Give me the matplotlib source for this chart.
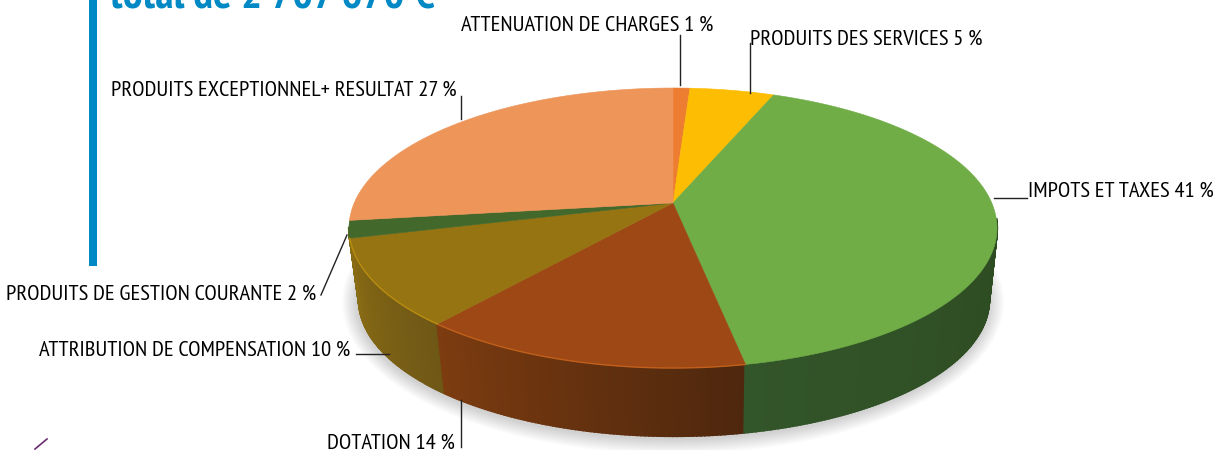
import numpy as np
import matplotlib
matplotlib.use("Agg")
import matplotlib.pyplot as plt
import logging
logging.getLogger('matplotlib.font_manager').setLevel(logging.ERROR)

NARROW = ['PT Sans Narrow', 'Roboto Condensed', 'Liberation Sans Narrow', 'Liberation Sans', 'DejaVu Sans']
plt.rcParams['font.family'] = NARROW

# ---- data
categories = ["ATTENUATION DE CHARGES", "PRODUITS DES SERVICES", "IMPOTS ET TAXES", "DOTATION",
              "ATTRIBUTION DE COMPENSATION", "PRODUITS DE GESTION COURANTE", "PRODUITS EXCEPTIONNEL+ RESULTAT"]
values = [1, 5, 41, 14, 10, 2, 27]
top_colors = ["#ed7d31", "#fcbd03", "#70ad47", "#9e4815", "#977412", "#43682b", "#ee9559"]
side_left = ["#b05a20", "#b98a00", "#33552a", "#7d3c10", "#8a6c14", "#5a6a20", "#a8683a"]
side_right = ["#b05a20", "#b98a00", "#294219", "#4e270e", "#6f5716", "#5a6a20", "#a8683a"]
rim_colors = [None, None, None, "#c0601c", "#b98d10", None, None]
title_text = "total de 2 707 670 €"
label_text = ["ATTENUATION DE CHARGES 1 %", "PRODUITS DES SERVICES 5 %", "IMPOTS ET TAXES 41 %",
              "DOTATION 14 %", "ATTRIBUTION DE COMPENSATION 10 %", "PRODUITS DE GESTION COURANTE 2 %",
              "PRODUITS EXCEPTIONNEL+ RESULTAT 27 %"]

# ---- geometry of the perspective pie (pixels)
CX, CY, RX, RY = 673, 228, 324, 140
BCX, BCY, BRX, BRY = 674, 300, 315, 136
TILT = 25 / 140


def hex2rgb(c):
    return np.array(matplotlib.colors.to_rgb(c))


def project(theta):
    """True pie angle -> angle on the drawn ellipse (perspective boost)."""
    x, y = np.sin(theta), np.cos(theta)
    d = 1 + TILT * y
    return np.arctan2(x * np.sqrt(1 - TILT ** 2) / d, (y + TILT) / d) % (2 * np.pi)


def top_pt(p):
    return CX + RX * np.sin(p), CY - RY * np.cos(p)


def bot_pt(p):
    return BCX + BRX * np.sin(p), BCY - BRY * np.cos(p)


fig = plt.figure(figsize=(12.26, 4.5), dpi=100, facecolor="white")
ax = fig.add_axes([0, 0, 1, 1])
ax.set_xlim(0, 1226)
ax.set_ylim(450, 0)
ax.axis("off")

# ---- shadow
phi = np.linspace(0, 2 * np.pi, 300)
for k in range(16, 0, -1):
    ax.fill(BCX - 1 + (BRX + k) * np.sin(phi), BCY + 2 - (BRY + k) * np.cos(phi),
            color="#808080", alpha=0.022, lw=0, zorder=1)

# ---- wedges
edges = np.cumsum([0] + values) / sum(values) * 2 * np.pi
for i in range(len(values)):
    t = np.linspace(edges[i], edges[i + 1], max(int(values[i] * 6), 6))
    p = np.unwrap(project(t))
    # side wall: a base polygon, then gradient steps that overlap to the next one
    for j, (a, b) in enumerate(zip(p[:-1], p[1:])):
        m = a % (2 * np.pi)
        if 1.5 < m < 4.72:
            f = np.clip((a - p.min()) / max(p.max() - p.min(), 1e-6), 0, 1)
            col = hex2rgb(side_right[i]) * (1 - f) + hex2rgb(side_left[i]) * f
            xt, yt = top_pt(np.array([a, b]))
            xb, yb = bot_pt(np.array([b, a]))
            ax.fill(np.r_[xt, xb], np.r_[yt, yb], color=col, lw=1.6, zorder=2 + j * 1e-3)
    # top face
    xa, ya = top_pt(p)
    ax.fill(np.r_[CX, xa], np.r_[CY - RY * TILT, ya], color=top_colors[i], lw=0.4, zorder=3)
    if rim_colors[i]:
        ax.plot(xa, ya, color=rim_colors[i], lw=1.0, zorder=4)

# ---- frame bar and title (cut by the top edge)
ax.fill_between([89, 97], 0, 266, color="#0089c4", lw=0, zorder=2)
ax.text(110, 7, title_text, color="#0089c4", fontsize=31.8, fontweight="bold",
        ha="left", va="baseline", zorder=5)
ax.plot([35, 47], [449, 439], color="#6a2c70", lw=1.2, zorder=2)

# ---- labels
FS = 16.2
label_pos = [(461, 25, "left"), (750, 39, "left"), (1028, 191, "left"), (455, 443, "right"),
             (350, 350, "right"), (316, 294, "right"), (457, 90, "right")]
for s, (x, y, ha) in zip(label_text, label_pos):
    ax.text(x, y, s, fontsize=FS, color="#000000", ha=ha, va="center", zorder=6)

leaders = [((680, 680), (35, 85)), ((749.5, 749.5), (43, 93)), ((994, 1027), (198, 198)),
           ((461, 461), (400, 447)), ((356, 389), (354, 354)), ((321, 347), (295, 235)),
           ((461, 461), (96, 119))]
for xs, ys in leaders:
    ax.plot(xs, ys, color="#222222", lw=1.0, zorder=6)

fig.savefig("out.png", dpi=100)
